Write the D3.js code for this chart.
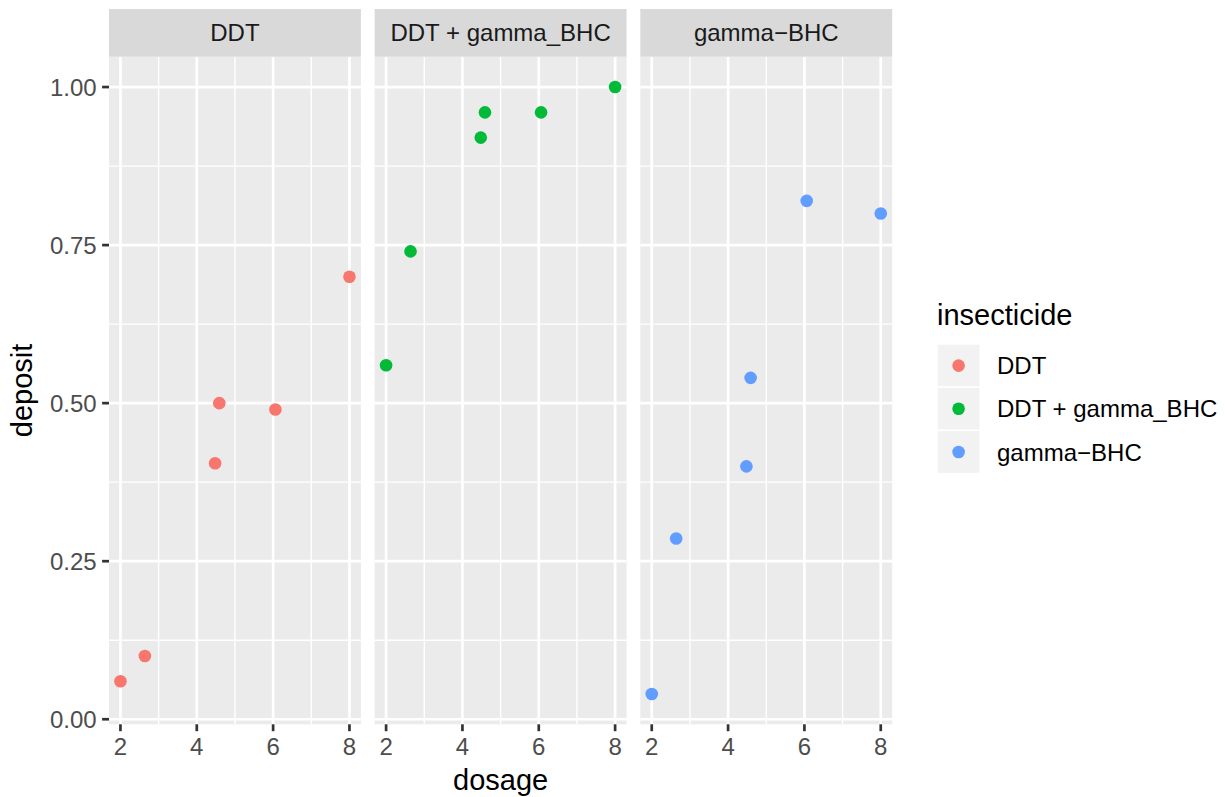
<!DOCTYPE html>
<html>
<head>
<meta charset="utf-8">
<script src="https://cdn.jsdelivr.net/npm/d3@7"></script>
<style>
    body { margin: 0; background: #fff; }
    text { font-family: "Liberation Sans", Arial, sans-serif; }
</style>
</head>
<body>
<div id="chart"></div>
<script>
// facet panels / insecticide levels
const insecticides = ["DDT", "DDT + gamma_BHC", "gamma\u2212BHC"];
const colors = ["#F8766D", "#00BA38", "#619CFF"];

// dosage values (same in every panel)
const dosage = [2, 2.64, 4.48, 4.59, 6.06, 8];

// deposit per insecticide
const depositDDT = [0.06, 0.10, 0.405, 0.50, 0.49, 0.70];
const depositBoth = [0.56, 0.74, 0.92, 0.96, 0.96, 1.00];
const depositGamma = [0.04, 0.286, 0.40, 0.54, 0.82, 0.80];

const xTicks = [2, 4, 6, 8];
const xMinor = [3, 5, 7];
const yTicks = [0, 0.25, 0.5, 0.75, 1];
const yMinor = [0.125, 0.375, 0.625, 0.875];

const deposits = [depositDDT, depositBoth, depositGamma];

const width = 1225, height = 797;
const panelLeft = 109, panelW = 251.9, panelGap = 13.75;
const stripTop = 9, panelTop = 56.7, panelBottom = 724.3;
const smallFont = 24, titleFont = 29;

const svg = d3.select("#chart").append("svg")
    .attr("width", width)
    .attr("height", height);

// expanded domains like ggplot (5% each side)
const xMin = d3.min(dosage), xMax = d3.max(dosage);
const allY = deposits.flat();
const yMin = d3.min(allY), yMax = d3.max(allY);
const xPad = (xMax - xMin) * 0.05, yPad = (yMax - yMin) * 0.05;

const y = d3.scaleLinear()
    .domain([yMin - yPad, yMax + yPad])
    .range([panelBottom, panelTop]);

insecticides.forEach((name, i) => {
    const x0 = panelLeft + i * (panelW + panelGap);
    const x = d3.scaleLinear()
        .domain([xMin - xPad, xMax + xPad])
        .range([x0, x0 + panelW]);

    const g = svg.append("g");

    // panel background
    g.append("rect")
        .attr("x", x0).attr("y", panelTop)
        .attr("width", panelW).attr("height", panelBottom - panelTop)
        .attr("fill", "#EBEBEB");

    // minor grid
    g.selectAll(".xminor").data(xMinor).join("line")
        .attr("x1", d => x(d)).attr("x2", d => x(d))
        .attr("y1", panelTop).attr("y2", panelBottom)
        .attr("stroke", "#fff").attr("stroke-width", 1.35);
    g.selectAll(".yminor").data(yMinor).join("line")
        .attr("x1", x0).attr("x2", x0 + panelW)
        .attr("y1", d => y(d)).attr("y2", d => y(d))
        .attr("stroke", "#fff").attr("stroke-width", 1.35);

    // major grid
    g.selectAll(".xmajor").data(xTicks).join("line")
        .attr("x1", d => x(d)).attr("x2", d => x(d))
        .attr("y1", panelTop).attr("y2", panelBottom)
        .attr("stroke", "#fff").attr("stroke-width", 2.7);
    g.selectAll(".ymajor").data(yTicks).join("line")
        .attr("x1", x0).attr("x2", x0 + panelW)
        .attr("y1", d => y(d)).attr("y2", d => y(d))
        .attr("stroke", "#fff").attr("stroke-width", 2.7);

    // strip
    g.append("rect")
        .attr("x", x0).attr("y", stripTop)
        .attr("width", panelW).attr("height", panelTop - stripTop)
        .attr("fill", "#D9D9D9");
    g.append("text")
        .attr("x", x0 + panelW / 2)
        .attr("y", (stripTop + panelTop) / 2)
        .attr("dy", "0.36em")
        .attr("text-anchor", "middle")
        .attr("font-size", smallFont)
        .attr("fill", "#1A1A1A")
        .text(name);

    // x axis ticks + labels
    const xAxis = g.append("g");
    xAxis.selectAll("line").data(xTicks).join("line")
        .attr("x1", d => x(d)).attr("x2", d => x(d))
        .attr("y1", panelBottom).attr("y2", panelBottom + 6.9)
        .attr("stroke", "#333333").attr("stroke-width", 2.7);
    xAxis.selectAll("text").data(xTicks).join("text")
        .attr("x", d => x(d))
        .attr("y", 755)
        .attr("text-anchor", "middle")
        .attr("font-size", smallFont)
        .attr("fill", "#4D4D4D")
        .text(d => d);

    // points
    g.selectAll("circle").data(d3.zip(dosage, deposits[i])).join("circle")
        .attr("cx", d => x(d[0]))
        .attr("cy", d => y(d[1]))
        .attr("r", 6.3)
        .attr("fill", colors[i]);
});

// y axis (left panel only)
const yAxis = svg.append("g");
yAxis.selectAll("line").data(yTicks).join("line")
    .attr("x1", panelLeft - 6.9).attr("x2", panelLeft)
    .attr("y1", d => y(d)).attr("y2", d => y(d))
    .attr("stroke", "#333333").attr("stroke-width", 2.7);
yAxis.selectAll("text").data(yTicks).join("text")
    .attr("x", panelLeft - 6.9 - 5.5)
    .attr("y", d => y(d))
    .attr("dy", "0.36em")
    .attr("text-anchor", "end")
    .attr("font-size", smallFont)
    .attr("fill", "#4D4D4D")
    .text(d => d3.format(".2f")(d));

// axis titles
const panelsRight = panelLeft + 3 * panelW + 2 * panelGap;
svg.append("text")
    .attr("x", (panelLeft + panelsRight) / 2)
    .attr("y", 790)
    .attr("text-anchor", "middle")
    .attr("font-size", titleFont)
    .attr("fill", "#000")
    .text("dosage");
svg.append("text")
    .attr("transform", `translate(32,${(panelTop + panelBottom) / 2}) rotate(-90)`)
    .attr("text-anchor", "middle")
    .attr("font-size", titleFont)
    .attr("fill", "#000")
    .text("deposit");

// legend
const legend = svg.append("g").attr("transform", "translate(937,0)");
legend.append("text")
    .attr("x", 0).attr("y", 325)
    .attr("font-size", titleFont)
    .attr("fill", "#000")
    .text("insecticide");

const keySize = 43.2, keyTop = 344;
insecticides.forEach((name, i) => {
    const ky = keyTop + i * keySize;
    legend.append("rect")
        .attr("x", 0).attr("y", ky)
        .attr("width", keySize).attr("height", keySize)
        .attr("fill", "#F2F2F2")
        .attr("stroke", "#fff")
        .attr("stroke-width", 1.4);
    legend.append("circle")
        .attr("cx", keySize / 2).attr("cy", ky + keySize / 2)
        .attr("r", 6.3)
        .attr("fill", colors[i]);
    legend.append("text")
        .attr("x", 60).attr("y", ky + keySize / 2)
        .attr("dy", "0.36em")
        .attr("font-size", smallFont)
        .attr("fill", "#000")
        .text(name);
});
</script>
</body>
</html>
